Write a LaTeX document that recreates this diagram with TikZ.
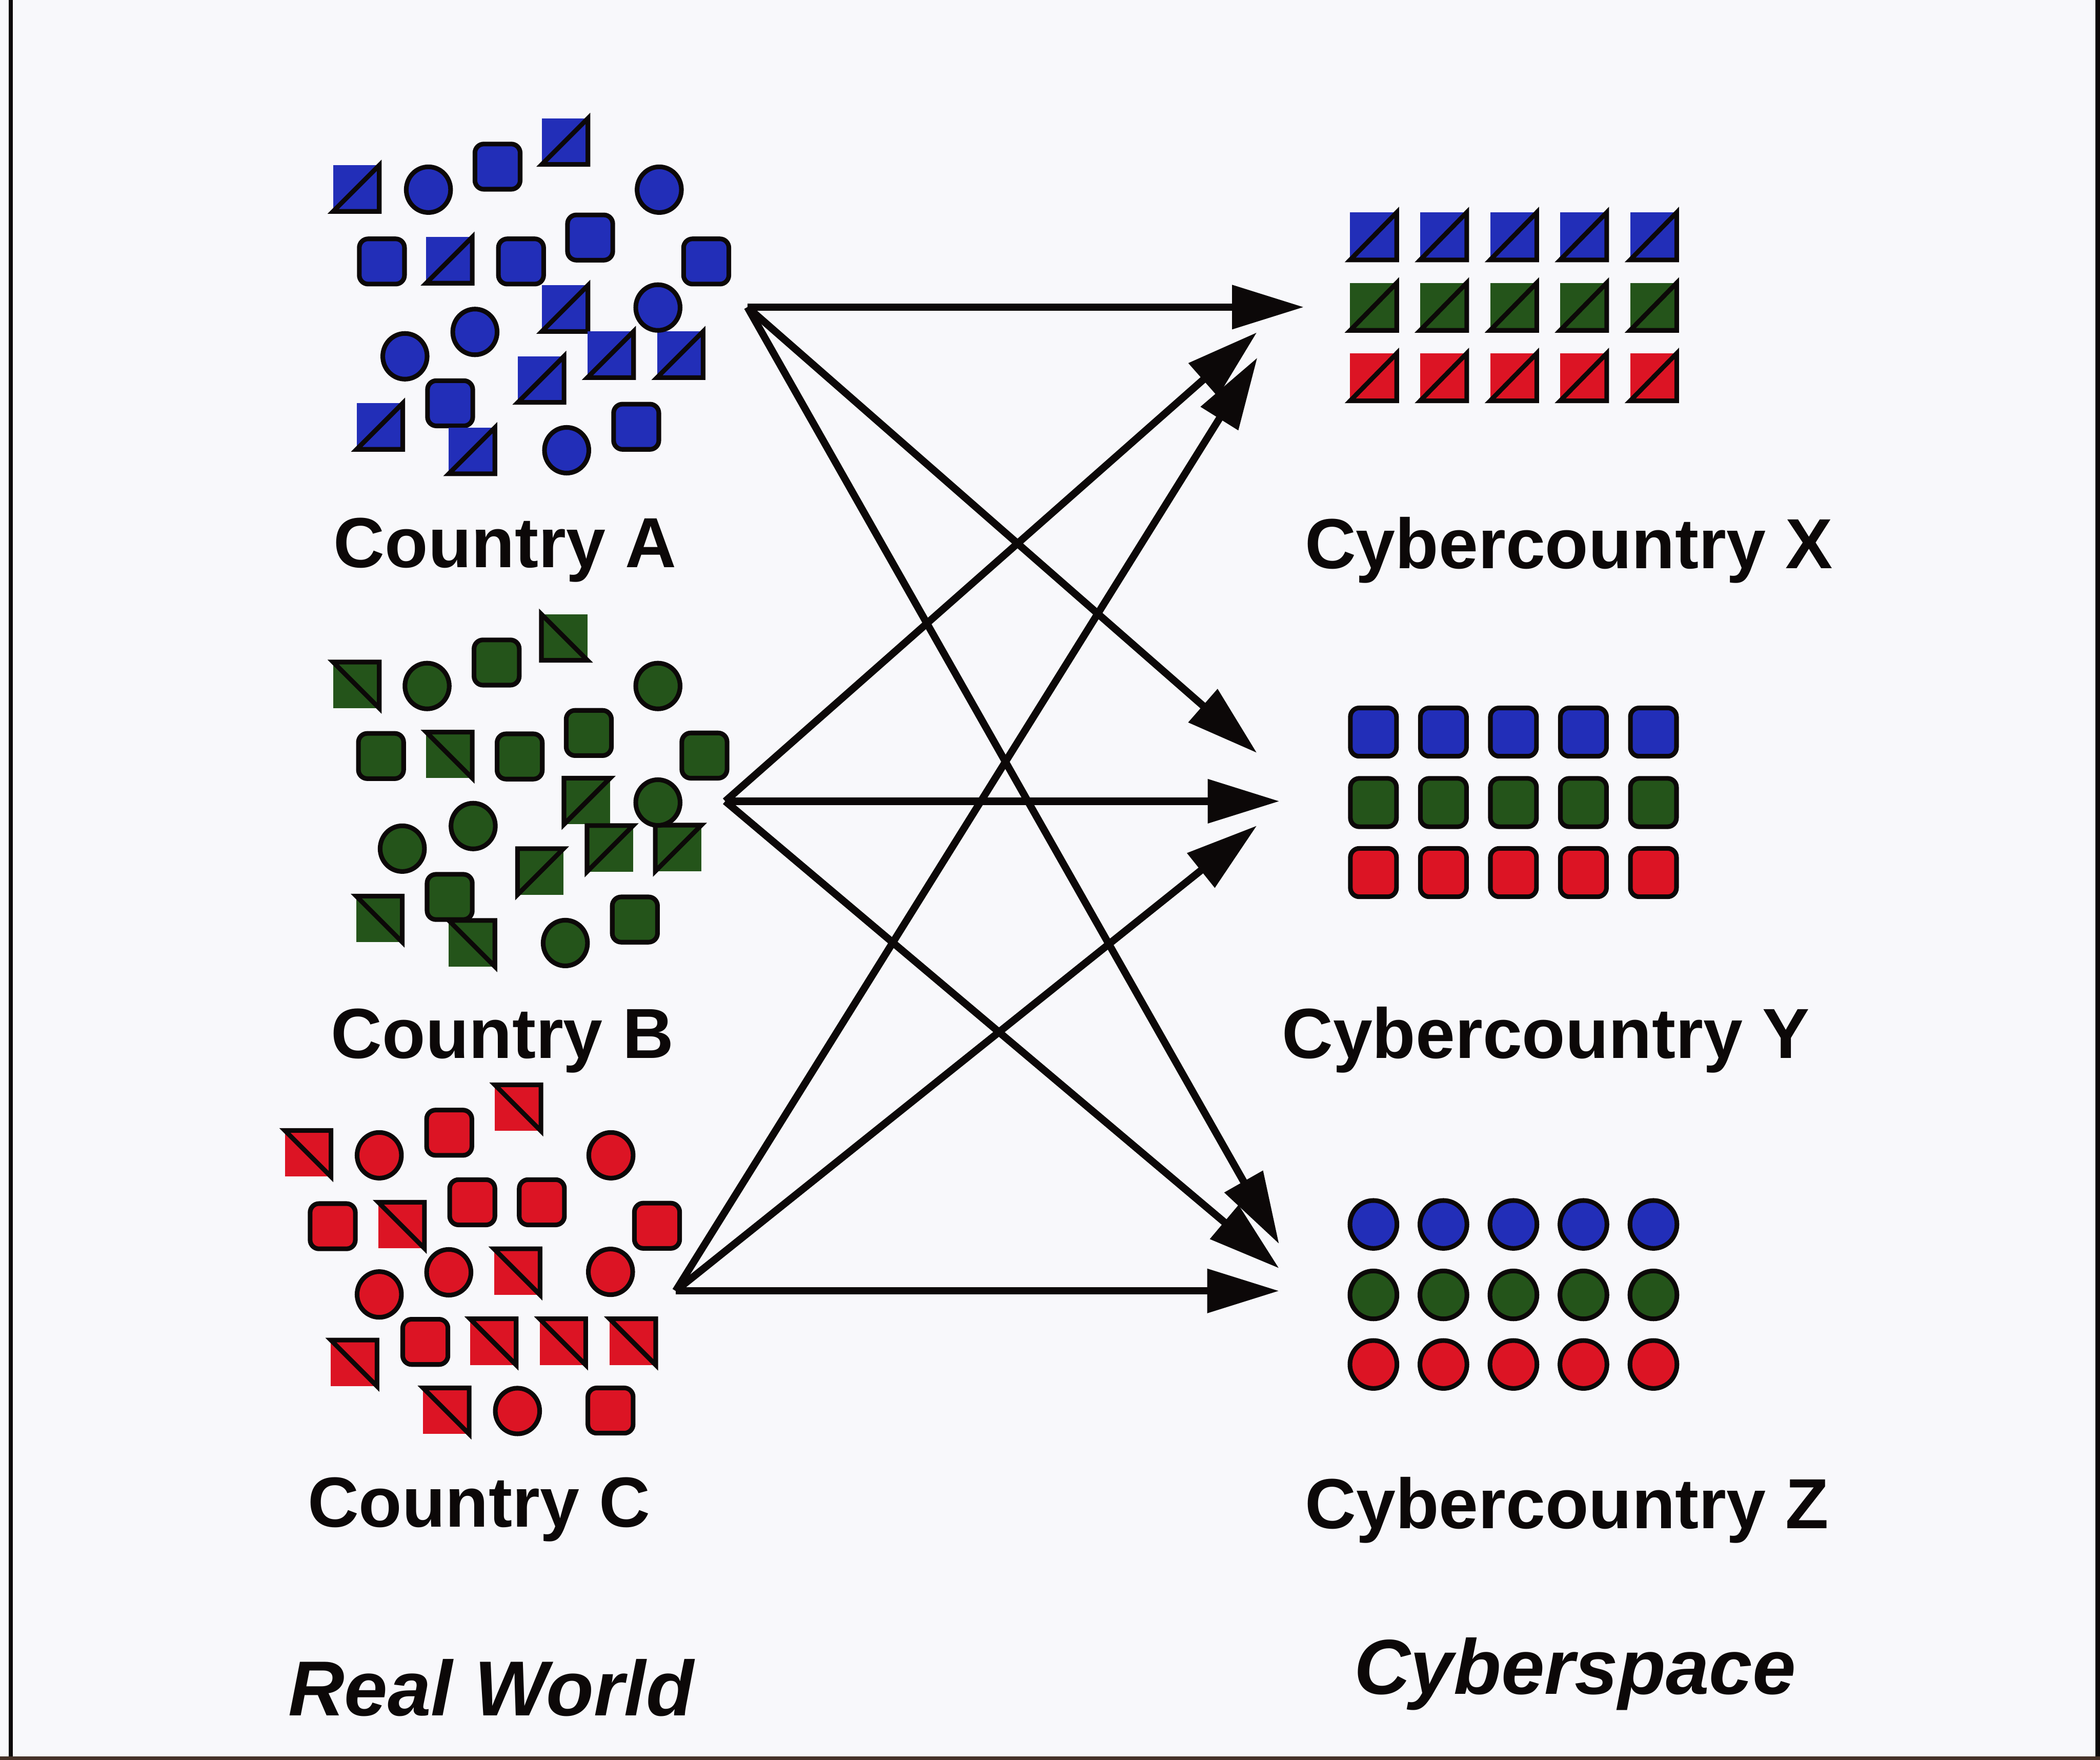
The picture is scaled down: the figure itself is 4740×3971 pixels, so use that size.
\documentclass[tikz,border=0pt]{standalone}
\usepackage{fontspec}
\setmainfont{Liberation Sans}
\usetikzlibrary{arrows.meta,shapes.geometric}
\definecolor{cblue}{RGB}{34,46,184}
\definecolor{cgreen}{RGB}{36,84,26}
\definecolor{cred}{RGB}{220,20,36}
\definecolor{bgc}{RGB}{248,248,251}
\definecolor{ink}{RGB}{12,8,8}
\tikzset{
  shp/.style={inner sep=0pt, outer sep=0pt, line width=0.105cm, draw=ink},
  rsq/.style={shp, rectangle, rounded corners=0.2cm, minimum width=1.02cm, minimum height=1.02cm},
  circ/.style={shp, ellipse, minimum width=1.0cm, minimum height=1.03cm},
  dsq/.style={rectangle, inner sep=0pt, outer sep=0pt, draw=none, minimum width=1.04cm, minimum height=1.04cm},
  tri/.style={line width=0.105cm, draw=ink, line join=miter},
  gxs/.style={minimum width=1.05cm, minimum height=1.07cm},
  gys/.style={minimum width=1.04cm, minimum height=1.09cm},
  gzs/.style={minimum width=1.06cm, minimum height=1.08cm},
  arr/.style={line width=0.165cm, draw=ink, -{Triangle[length=1.62cm, width=0.96cm]}},
  lab/.style={anchor=base, inner sep=0pt, text=ink, font=\fontsize{45.5}{50}\selectfont\bfseries},
  big/.style={anchor=base, inner sep=0pt, text=ink, font=\fontsize{50}{56}\selectfont\bfseries\itshape},
  frame/.style={draw=ink, line width=0.09cm}
}
% rounded square
\newcommand\ShpR[5][]{\node[rsq, fill=#5, #1] (#2) at (#3,#4) {};}
% ellipse
\newcommand\ShpC[5][]{\node[circ, fill=#5, #1] (#2) at (#3,#4) {};}
% diagonal square, outline bottom + right + diagonal (BL-TR)
\newcommand\ShpA[5][]{\node[dsq, fill=#5, #1] (#2) at (#3,#4) {};
  \draw[tri] (#2.south west) -- (#2.south east) -- (#2.north east) -- cycle;}
% diagonal square, outline top + right + diagonal (TL-BR)
\newcommand\ShpB[5][]{\node[dsq, fill=#5, #1] (#2) at (#3,#4) {};
  \draw[tri] (#2.north west) -- (#2.north east) -- (#2.south east) -- cycle;}
% diagonal square, outline left + top + diagonal (TR-BL)
\newcommand\ShpD[5][]{\node[dsq, fill=#5, #1] (#2) at (#3,#4) {};
  \draw[tri] (#2.south west) -- (#2.north west) -- (#2.north east) -- cycle;}
% diagonal square, outline left + bottom + diagonal (TL-BR)
\newcommand\ShpE[5][]{\node[dsq, fill=#5, #1] (#2) at (#3,#4) {};
  \draw[tri] (#2.north west) -- (#2.south west) -- (#2.south east) -- cycle;}
\begin{document}
\begin{tikzpicture}[x=0.01cm, y=-0.01cm]
\useasboundingbox (0,0) rectangle (4740,3971);
\fill[bgc] (0,0) rectangle (4740,3971);
\draw[frame] (24,0) -- (24,3971);
\draw[draw=ink, line width=0.1cm] (4735,0) -- (4735,3971);
\draw[draw={rgb,255:red,70;green,50;blue,40}, line width=0.08cm] (0,3967) -- (4740,3967);

% ---------------- Country A (blue) ----------------
\ShpR{a3}{1123}{376}{cblue}
\ShpR{a6}{862}{590}{cblue}
\ShpR{a8}{1176}{590}{cblue}
\ShpR{a9}{1332}{536}{cblue}
\ShpR{a10}{1594}{590}{cblue}
\ShpR{a18}{1016}{910}{cblue}
\ShpR{a22}{1436}{963}{cblue}
\ShpA{a1}{804}{425}{cblue}
\ShpA{a4}{1275}{319}{cblue}
\ShpA{a7}{1014}{587}{cblue}
\ShpA{a11}{1275}{696}{cblue}
\ShpA{a15}{1378}{800}{cblue}
\ShpA{a16}{1535}{800}{cblue}
\ShpA{a17}{1221}{856}{cblue}
\ShpA{a19}{857}{962}{cblue}
\ShpA{a20}{1065}{1017}{cblue}
\ShpC{a2}{967}{428}{cblue}
\ShpC{a5}{1488}{428}{cblue}
\ShpC{a12}{1485}{694}{cblue}
\ShpC{a13}{1072}{749}{cblue}
\ShpC{a14}{914}{804}{cblue}
\ShpC{a21}{1279}{1016}{cblue}

% ---------------- Country B (green) ----------------
\ShpR{b3}{1121}{1495}{cgreen}
\ShpR{b6}{860}{1706}{cgreen}
\ShpR{b8}{1173}{1707}{cgreen}
\ShpR{b9}{1329}{1654}{cgreen}
\ShpR{b10}{1590}{1705}{cgreen}
\ShpR{b18}{1015}{2024}{cgreen}
\ShpR{b22}{1433}{2075}{cgreen}
\ShpB{b1}{804}{1546}{cgreen}
\ShpE{b4}{1274}{1438}{cgreen}
\ShpB{b7}{1014}{1704}{cgreen}
\ShpB{b19}{856}{2074}{cgreen}
\ShpB{b20}{1065}{2129}{cgreen}
\ShpD{b11}{1325}{1808}{cgreen}
\ShpD{b15}{1377}{1915}{cgreen}
\ShpD{b16}{1531}{1914}{cgreen}
\ShpD{b17}{1220}{1967}{cgreen}
\ShpC{b2}{964}{1548}{cgreen}
\ShpC{b5}{1485}{1548}{cgreen}
\ShpC{b12}{1485}{1811}{cgreen}
\ShpC{b13}{1068}{1864}{cgreen}
\ShpC{b14}{908}{1915}{cgreen}
\ShpC{b21}{1276}{2128}{cgreen}

% ---------------- Country C (red) ----------------
\ShpR{c3}{1014}{2556}{cred}
\ShpR{c6}{751}{2767}{cred}
\ShpR{c8}{1066}{2713}{cred}
\ShpR{c9}{1223}{2713}{cred}
\ShpR{c10}{1483}{2766}{cred}
\ShpR{c15}{960}{3028}{cred}
\ShpR{c22}{1378}{3183}{cred}
\ShpB{c1}{695}{2603}{cred}
\ShpB{c4}{1169}{2500}{cred}
\ShpB{c7}{906}{2765}{cred}
\ShpB{c12}{1167}{2870}{cred}
\ShpB{c16}{1113}{3028}{cred}
\ShpB{c17}{1270}{3028}{cred}
\ShpB{c18}{1428}{3028}{cred}
\ShpB{c19}{799}{3076}{cred}
\ShpB{c20}{1007}{3184}{cred}
\ShpC{c2}{856}{2607}{cred}
\ShpC{c5}{1379}{2607}{cred}
\ShpC{c11}{1013}{2871}{cred}
\ShpC{c13}{1378}{2870}{cred}
\ShpC{c14}{856}{2921}{cred}
\ShpC{c21}{1168}{3184}{cred}

% ---------------- Cybercountry grids ----------------
\foreach \i [evaluate=\i as \xx using 3100+158*\i] in {0,...,4} {
  \ShpA[gxs]{xb\i}{\xx}{533}{cblue}
  \ShpA[gxs]{xg\i}{\xx}{692}{cgreen}
  \ShpA[gxs]{xr\i}{\xx}{851}{cred}
  \ShpR[gys]{yb\i}{\xx}{1652}{cblue}
  \ShpR[gys]{yg\i}{\xx}{1811}{cgreen}
  \ShpR[gys]{yr\i}{\xx}{1969}{cred}
  \ShpC[gzs]{zb\i}{\xx}{2763}{cblue}
  \ShpC[gzs]{zg\i}{\xx}{2922}{cgreen}
  \ShpC[gzs]{zr\i}{\xx}{3079}{cred}
}

% ---------------- Arrows ----------------
\coordinate (srcA) at (1687,693);
\coordinate (srcB) at (1637,1808);
\coordinate (srcC) at (1525,2913);
\coordinate (tAX) at (2943,693);
\coordinate (tBX) at (2837,750);
\coordinate (tCX) at (2838,807);
\coordinate (tAY) at (2837,1699);
\coordinate (tBY) at (2888,1808);
\coordinate (tCY) at (2837,1863);
\coordinate (tAZ) at (2887,2807);
\coordinate (tBZ) at (2887,2862);
\coordinate (tCZ) at (2887,2913);
\draw[arr] (srcA) -- (tAX);
\draw[arr] (srcA) -- (tAY);
\draw[arr] (srcA) -- (tAZ);
\draw[arr] (srcB) -- (tBX);
\draw[arr] (srcB) -- (tBY);
\draw[arr] (srcB) -- (tBZ);
\draw[arr] (srcC) -- (tCX);
\draw[arr] (srcC) -- (tCY);
\draw[arr] (srcC) -- (tCZ);

% ---------------- Labels ----------------
\node[lab] (labA) at (1140,1280) {Country A};
\node[lab] (labB) at (1134,2388) {Country B};
\node[lab] (labC) at (1081,3446) {Country C};
\node[lab] (labX) at (3541,1283) {Cybercountry X};
\node[lab] (labY) at (3489,2388) {Cybercountry Y};
\node[lab] (labZ) at (3537,3449) {Cybercountry Z};
\node[big] (real) at (1108,3872) {Real World};
\node[big] (cyber) at (3555,3823) {Cyberspace};
\end{tikzpicture}
\end{document}
